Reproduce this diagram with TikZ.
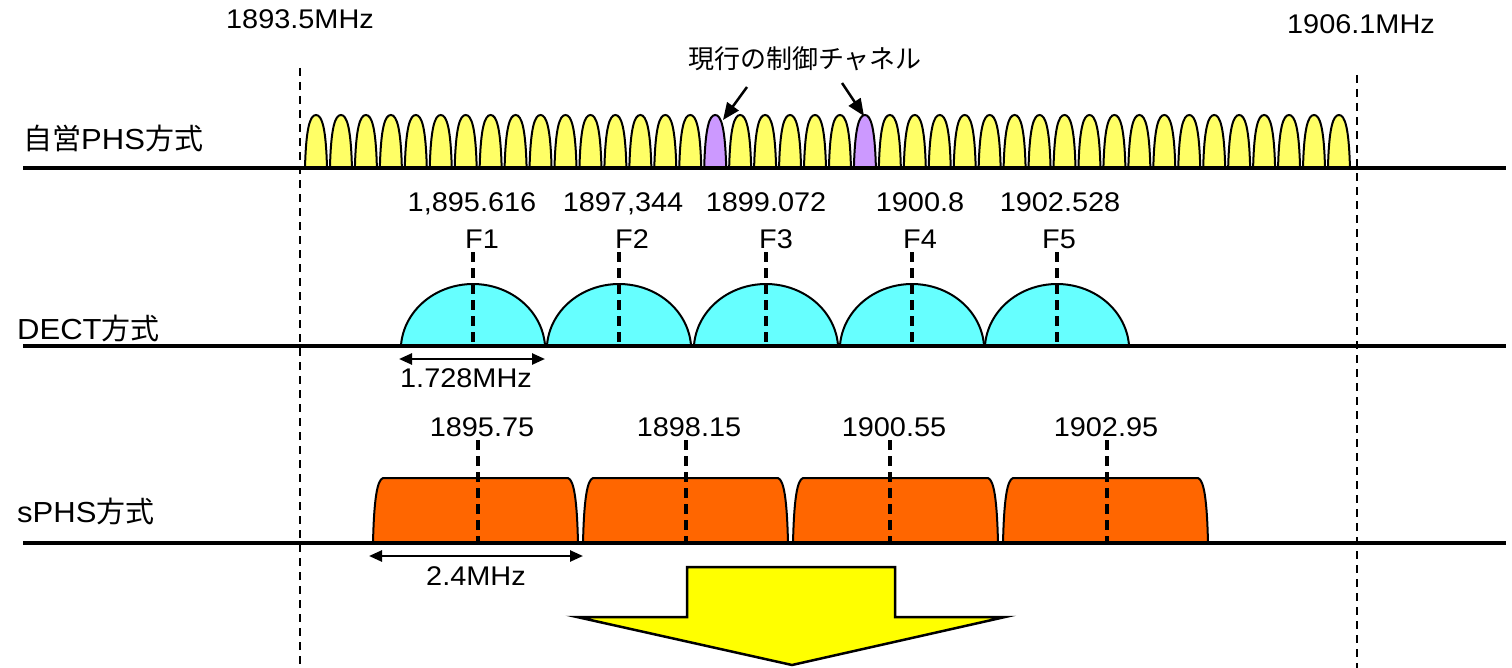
\documentclass[tikz,border=0pt]{standalone}
\usepackage{fontspec}
\setmainfont{Liberation Sans}[FakeStretch=1.07]
\newfontfamily\jp{Noto Sans CJK JP}
\usetikzlibrary{arrows.meta}
\definecolor{phsY}{HTML}{FFFF66}
\definecolor{ctrlP}{HTML}{CC99FF}
\definecolor{dectC}{HTML}{66FFFF}
\definecolor{sphsO}{HTML}{FF6600}
\definecolor{bigY}{HTML}{FFFF00}
\begin{document}
\begin{tikzpicture}[x=1bp,y=-1bp,
  font=\fontsize{27bp}{32bp}\selectfont,
  lbl/.style={inner sep=0pt, anchor=base},
  lblw/.style={inner sep=0pt, anchor=base west, font=\fontsize{29bp}{34bp}\selectfont},
  bandline/.style={line width=3.5bp},
  bound/.style={line width=2.5bp, dash pattern=on 8bp off 6bp},
  centerline/.style={line width=3.5bp, dash pattern=on 10bp off 6bp},
  bumpline/.style={line width=2bp},
  widtharrow/.style={line width=2.5bp, {Triangle[length=13bp,width=11bp]}-{Triangle[length=13bp,width=11bp]}},
  pointer/.style={line width=2.5bp, -{Triangle[length=17bp,width=14bp]}}]
\useasboundingbox (0,0) rectangle (1512,668);

% frequency boundaries
\draw[bound] (300,68) -- (300,668);
\draw[bound] (1357,75) -- (1357,668);
\node[lbl] (fmin) at (300,29) {1893.5MHz};
\node[lbl] (fmax) at (1361,34) {1906.1MHz};

% ---------- PHS ----------
\foreach \i in {0,...,41} {
  \pgfmathsetmacro\c{316+24.95*\i}
  \def\col{phsY}
  \ifnum\i=16 \def\col{ctrlP}\fi
  \ifnum\i=22 \def\col{ctrlP}\fi
  \filldraw[fill=\col, bumpline] (\c-11,168) .. controls (\c-10,128) and (\c-6,115) .. (\c,115)
     .. controls (\c+6,115) and (\c+10,128) .. (\c+11,168);
}
\draw[bandline] (23,168) -- (1506,168);
\node[lblw] (phs) at (23,150) {{\jp 自営}PHS{\jp 方式}};
\node[lbl] (ctrl) at (805,69) {\fontsize{26bp}{30bp}\jp 現行の制御チャネル};
\coordinate (p1s) at (747,87);
\coordinate (p1e) at (723,120);
\coordinate (p2s) at (842,83);
\coordinate (p2e) at (864,116);
\draw[pointer] (p1s) -- (p1e);
\draw[pointer] (p2s) -- (p2e);

% ---------- DECT ----------
\foreach \c in {473,619,766,912,1057} {
  \filldraw[fill=dectC, bumpline] plot[domain=4:176, samples=50, smooth]
     ({\c+72.2*cos(\x)}, {350-66*sin(\x)});
  \draw[centerline] (\c,252) -- (\c,346);
}
\draw[bandline] (23,346) -- (1506,346);
\node[lblw] (dect) at (17,339) {DECT{\jp 方式}};
\foreach \n/\x/\fx/\t in {1/472/482/{1,895.616}, 2/623/632/{1897,344}, 3/766/776/{1899.072}, 4/920/920/{1900.8}, 5/1060/1059/{1902.528}} {
  \node[lbl] (df\n) at (\x,211) {\t};
  \node[lbl] (dF\n) at (\fx,248) {F\n};
}
\coordinate (dw1) at (399,359);
\coordinate (dw2) at (545,359);
\draw[widtharrow] (dw1) -- (dw2);
\node[lbl] (dwl) at (466,387) {1.728MHz};

% ---------- sPHS ----------
\foreach \l/\m in {373/478, 583/686, 793/890, 1003/1107} {
  \filldraw[fill=sphsO, bumpline] (\l,543) .. controls (\l+1,500) and (\l+4,480) .. (\l+10,478)
     -- (\l+195,478) .. controls (\l+201,480) and (\l+204,500) .. (\l+205,543);
  \draw[centerline] (\m,440) -- (\m,543);
}
\draw[bandline] (23,543) -- (1506,543);
\node[lblw] (sphs) at (17,522) {sPHS{\jp 方式}};
\foreach \n/\x/\t in {1/482/{1895.75}, 2/689/{1898.15}, 3/894/{1900.55}, 4/1106/{1902.95}} {
  \node[lbl] (sf\n) at (\x,436) {\t};
}
\coordinate (sw1) at (369,556);
\coordinate (sw2) at (583,556);
\draw[widtharrow] (sw1) -- (sw2);
\node[lbl] (swl) at (476,585) {2.4MHz};

% ---------- big arrow ----------
\filldraw[fill=bigY, line width=2.5bp] (687,567) -- (895,567) -- (895,617) -- (1005,617)
   -- (792,665) -- (577,617) -- (687,617) -- cycle;
\end{tikzpicture}
\end{document}
